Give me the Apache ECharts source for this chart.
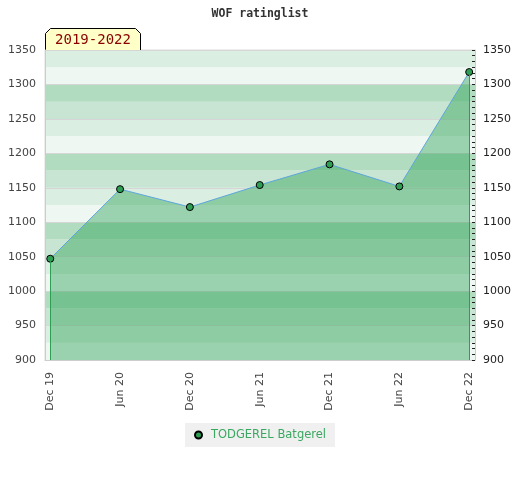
<!DOCTYPE html>
<html>
<head>
<meta charset="utf-8">
<script src="https://cdn.jsdelivr.net/npm/echarts@6/dist/echarts.min.js"></script>
<style>html,body{margin:0;padding:0;background:#fff}#c{width:520px;height:480px}</style>
</head>
<body>
<div id="c"></div>
<script>
const categories = ['Dec 19', 'Jun 20', 'Dec 20', 'Jun 21', 'Dec 21', 'Jun 22', 'Dec 22'];
const monthsFromStart = [0, 6, 12, 18, 24, 30, 36];
const ratings = [1047, 1148, 1122, 1154, 1184, 1152, 1318];
const seriesName = 'TODGEREL Batgerel';
const periodLabel = '2019-2022';
const titleText = 'WOF ratinglist';
const yTicks = [900, 950, 1000, 1050, 1100, 1150, 1200, 1250, 1300, 1350];

const yMin = yTicks[0], yMax = yTicks[yTicks.length - 1];
const points = ratings.map((v, i) => [monthsFromStart[i], v]);
const labelMap = {};
monthsFromStart.forEach((m, i) => { labelMap[m] = categories[i]; });
const first = points[0], last = points[points.length - 1];
const plain = v => String(v);

const chart = echarts.init(document.getElementById('c'), null, { renderer: 'canvas' });
chart.setOption({
  animation: false,
  title: {
    text: titleText, left: 'center', top: 3,
    textStyle: { fontFamily: 'DejaVu Sans Mono', fontWeight: 'bold', fontSize: 11.5, color: '#333' }
  },
  grid: { left: 45, right: 45, top: 50, bottom: 120, show: true, borderColor: '#ddd', borderWidth: 1, backgroundColor: 'transparent' },
  legend: {
    bottom: 33, left: 'center',
    backgroundColor: '#f0f0f0', padding: [6, 9, 6, 9],
    icon: 'circle', itemWidth: 7, itemHeight: 7,
    textStyle: { color: '#3aa860', fontFamily: 'DejaVu Sans', fontSize: 11.5, padding: [0, 0, 0, 4] },
    data: [seriesName]
  },
  xAxis: {
    type: 'value', min: -0.45, max: 36.5,
    axisLine: { show: true, lineStyle: { color: '#ccc' } },
    axisTick: { show: false },
    splitLine: { show: false },
    axisLabel: {
      customValues: monthsFromStart,
      formatter: v => labelMap[v] || '',
      rotate: 90, margin: 12,
      color: '#444', fontFamily: 'DejaVu Sans', fontSize: 11
    }
  },
  yAxis: [
    {
      type: 'value', min: yMin, max: yMax, interval: 25, position: 'left',
      axisLine: { show: false }, axisTick: { show: false }, axisLabel: { show: false },
      splitLine: { show: false },
      splitArea: { show: true, areaStyle: { color: ['#eff7f2', '#dbeee2', '#c7e5d2', '#b2dcc0'] } }
    },
    {
      type: 'value', min: yMin, max: yMax, interval: 50, position: 'left',
      axisLine: { show: true, lineStyle: { color: '#ccc' } }, axisTick: { show: false },
      axisLabel: { color: '#444', fontFamily: 'DejaVu Sans', fontSize: 11, margin: 9, formatter: plain },
      splitLine: { show: true, lineStyle: { color: '#d6d6d6', width: 1 } }
    },
    {
      type: 'value', min: yMin, max: yMax, interval: 50, position: 'right',
      axisLine: { show: true, lineStyle: { color: '#ccc' } },
      axisTick: { show: true, inside: true, length: 3, lineStyle: { color: '#222' } },
      minorTick: { show: true, splitNumber: 6, length: 3, lineStyle: { color: '#222' } },
      axisLabel: { color: '#222', fontFamily: 'DejaVu Sans', fontSize: 11, margin: 8, formatter: plain },
      splitLine: { show: false }
    }
  ],
  series: [{
    name: seriesName, type: 'line', yAxisIndex: 1,
    data: points,
    symbol: 'circle', symbolSize: 7,
    itemStyle: { color: '#2e9e55', borderColor: '#000', borderWidth: 1 },
    lineStyle: { color: '#5ea6dc', width: 1 },
    areaStyle: { color: 'rgba(42,161,84,0.43)', opacity: 1, origin: 'start' },
    markLine: {
      silent: true, symbol: 'none', label: { show: false },
      lineStyle: { color: '#2e9e55', width: 1, type: 'solid' },
      data: [
        [{ coord: [first[0], yMin] }, { coord: [first[0], first[1]] }],
        [{ coord: [last[0], yMin] }, { coord: [last[0], last[1]] }]
      ]
    },
    z: 3
  }],
  graphic: [{
    type: 'group', left: 45, top: 28, z: 100,
    children: [
      { type: 'polygon', shape: { points: [[0, 22], [0, 5], [5, 0], [90, 0], [95, 5], [95, 22]] },
        style: { fill: '#ffffc8', stroke: '#000', lineWidth: 1 } },
      { type: 'text', x: 47.5, y: 12, style: { text: periodLabel, fill: '#8b0000', font: '14px "DejaVu Sans Mono"', align: 'center', verticalAlign: 'middle' } }
    ]
  }]
});
</script>
</body>
</html>
